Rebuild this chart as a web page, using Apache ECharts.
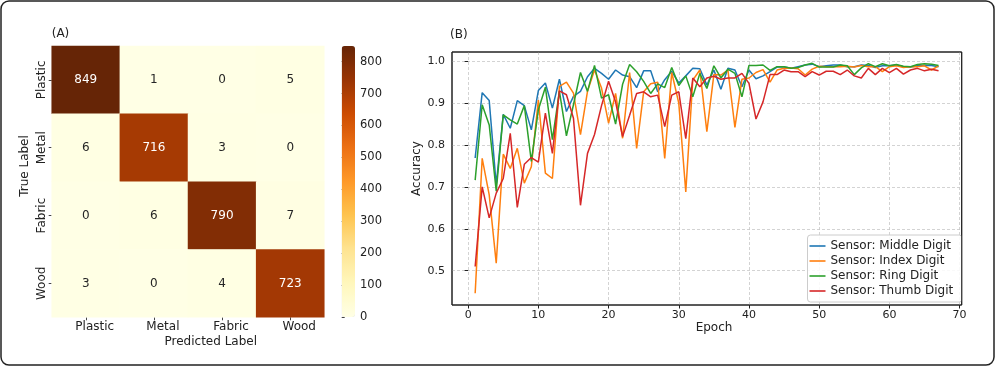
<!DOCTYPE html>
<html>
<head>
<meta charset="utf-8">
<script src="https://cdn.jsdelivr.net/npm/echarts@6/dist/echarts.min.js"></script>
<style>
html,body{margin:0;padding:0;background:#fff;}
#chart{width:996px;height:367px;}
</style>
</head>
<body>
<div id="chart"></div>
<script>
const categories = ['Plastic', 'Metal', 'Fabric', 'Wood'];
const confusion = [
  [849, 1, 0, 5],
  [6, 716, 3, 0],
  [0, 6, 790, 7],
  [3, 0, 4, 723]
];
const epochs = [1,2,3,4,5,6,7,8,9,10,11,12,13,14,15,16,17,18,19,20,21,22,23,24,25,26,27,28,29,30,31,32,33,34,35,36,37,38,39,40,41,42,43,44,45,46,47,48,49,50,51,52,53,54,55,56,57,58,59,60,61,62,63,64,65,66,67];
const middleDigit = [0.769,0.925,0.906,0.705,0.873,0.84,0.906,0.894,0.836,0.93,
 0.948,0.888,0.957,0.88,0.916,0.928,0.963,0.983,0.971,0.957,
 0.979,0.967,0.963,0.937,0.977,0.977,0.927,0.956,0.976,0.948,
 0.965,0.983,0.982,0.943,0.979,0.933,0.983,0.979,0.939,0.979,
 0.958,0.965,0.975,0.986,0.986,0.983,0.987,0.991,0.993,0.987,
 0.989,0.991,0.991,0.987,0.987,0.991,0.99,0.985,0.989,0.989,
 0.991,0.987,0.986,0.989,0.99,0.99,0.987];
const indexDigit = [0.446,0.768,0.681,0.518,0.778,0.744,0.792,0.709,0.748,0.907,
 0.733,0.72,0.94,0.95,0.924,0.825,0.928,0.979,0.936,0.852,
 0.923,0.816,0.973,0.792,0.927,0.946,0.95,0.768,0.973,0.9,
 0.688,0.955,0.979,0.832,0.968,0.967,0.979,0.842,0.957,0.96,
 0.973,0.98,0.95,0.979,0.983,0.984,0.982,0.967,0.981,0.988,
 0.987,0.987,0.987,0.988,0.986,0.99,0.987,0.987,0.975,0.987,
 0.989,0.985,0.987,0.987,0.989,0.979,0.989];
const ringDigit = [0.716,0.896,0.848,0.69,0.872,0.86,0.85,0.894,0.761,0.884,
 0.938,0.813,0.928,0.822,0.896,0.973,0.928,0.99,0.912,0.92,
 0.85,0.945,0.992,0.975,0.952,0.923,0.946,0.937,0.985,0.942,
 0.965,0.915,0.971,0.935,0.989,0.96,0.981,0.971,0.915,0.99,
 0.99,0.991,0.978,0.987,0.987,0.983,0.985,0.991,0.995,0.986,
 0.986,0.986,0.991,0.989,0.968,0.984,0.994,0.987,0.994,0.989,
 0.992,0.988,0.987,0.992,0.994,0.993,0.99];
const thumbDigit = [0.51,0.70,0.626,0.685,0.72,0.828,0.651,0.754,0.77,0.759,
 0.876,0.78,0.929,0.92,0.864,0.656,0.78,0.825,0.894,0.952,
 0.903,0.82,0.871,0.923,0.927,0.915,0.919,0.844,0.919,0.927,
 0.815,0.96,0.939,0.96,0.964,0.957,0.96,0.96,0.971,0.947,
 0.862,0.903,0.968,0.968,0.979,0.975,0.975,0.963,0.975,0.967,
 0.976,0.976,0.968,0.979,0.965,0.96,0.983,0.968,0.983,0.973,
 0.983,0.969,0.979,0.983,0.977,0.981,0.977];
const seriesNames = ['Sensor: Middle Digit', 'Sensor: Index Digit', 'Sensor: Ring Digit', 'Sensor: Thumb Digit'];
const seriesColors = ['#1f77b4', '#ff7f0e', '#2ca02c', '#d62728'];
const ylOrBr = ['#ffffe5','#fff7bc','#fee391','#fec44f','#fe9929','#ec7014','#cc4c02','#993404','#662506'];

const FONT = 'DejaVu Sans';
const TXT = '#222';

const heatData = [];
confusion.forEach((row, r) => row.forEach((v, c) => {
  heatData.push({ value: [c, r, v], label: { color: v > 400 ? '#ffffff' : '#262626' } });
}));

const seriesArrays = [middleDigit, indexDigit, ringDigit, thumbDigit];
const lineSeries = seriesArrays.map((arr, i) => ({
  type: 'line',
  name: seriesNames[i],
  xAxisIndex: 1, yAxisIndex: 1,
  data: epochs.map((e, j) => [e, arr[j]]),
  symbol: 'none', showSymbol: false,
  lineStyle: { width: 1.5, color: seriesColors[i] },
  itemStyle: { color: seriesColors[i] },
  z: 3 + i
}));

const chart = echarts.init(document.getElementById('chart'), null, { renderer: 'canvas' });
const option = {
  animation: false,
  textStyle: { fontFamily: FONT, color: TXT },
  grid: [
    { left: 51.7, top: 46, width: 272.6, height: 271.3 },
    { left: 452, top: 52, width: 509.7, height: 253, show: true, borderColor: '#222', borderWidth: 1, backgroundColor: '#fff' },
    { left: 341.7, top: 46, width: 13.3, height: 271 }
  ],
  xAxis: [
    { type: 'category', gridIndex: 0, data: categories, position: 'bottom',
      axisLine: { show: false }, splitLine: { show: false }, splitArea: { show: false },
      axisTick: { show: true, alignWithLabel: true, length: 3, lineStyle: { color: '#444' } },
      axisLabel: { fontSize: 12, color: TXT, margin: 4, padding: [0, 0, 0, 18] } },
    { type: 'value', gridIndex: 1, min: -2.3, max: 70.3, minInterval: 10, maxInterval: 10,
      axisLine: { show: false },
      axisTick: { show: true, length: 3.5, lineStyle: { color: '#222' } },
      axisLabel: { fontSize: 11, color: TXT, margin: 5, showMinLabel: false, showMaxLabel: false },
      splitLine: { show: true, showMinLine: false, showMaxLine: false, lineStyle: { color: '#c8c8c8', type: [3, 2], width: 0.8 } } },
    { type: 'value', gridIndex: 2, show: false, min: 0, max: 1 }
  ],
  yAxis: [
    { type: 'category', gridIndex: 0, data: categories, inverse: true,
      axisLine: { show: false }, splitLine: { show: false }, splitArea: { show: false },
      axisTick: { show: true, alignWithLabel: true, length: 3, lineStyle: { color: '#444' } },
      axisLabel: { fontSize: 12, color: TXT, rotate: 90, margin: 4 } },
    { type: 'value', gridIndex: 1, min: 0.418, max: 1.022, minInterval: 0.1, maxInterval: 0.1,
      axisLine: { show: false },
      axisTick: { show: true, length: 3.5, lineStyle: { color: '#222' } },
      axisLabel: { fontSize: 11, color: TXT, margin: 7, showMinLabel: false, showMaxLabel: false,
        formatter: v => v.toFixed(1) },
      splitLine: { show: true, showMinLine: false, showMaxLine: false, lineStyle: { color: '#c8c8c8', type: [3, 2], width: 0.8 } } },
    { type: 'value', gridIndex: 2, position: 'right', min: 0, max: 849, interval: 100,
      axisLine: { show: false }, splitLine: { show: false },
      axisTick: { show: true, length: 3, lineStyle: { color: '#444' } },
      axisLabel: { fontSize: 11.5, color: TXT, margin: 5, showMaxLabel: false } }
  ],
  visualMap: {
    type: 'continuous', min: 0, max: 849, seriesIndex: 0,
    left: 341.7, top: 46, itemWidth: 13.3, itemHeight: 271, padding: 0,
    calculable: false, hoverLink: false, orient: 'vertical',
    inRange: { color: ylOrBr }
  },
  legend: {
    data: seriesNames, orient: 'vertical', left: 807.5, top: 235,
    padding: [5, 9, 5, 2], itemGap: 3, itemWidth: 16, itemHeight: 1.6, icon: 'rect',
    backgroundColor: 'rgba(255,255,255,0.85)', borderColor: '#cccccc', borderWidth: 1, borderRadius: 3,
    textStyle: { fontSize: 12, color: TXT, fontFamily: FONT }
  },
  series: [
    { type: 'heatmap', xAxisIndex: 0, yAxisIndex: 0, data: heatData,
      label: { show: true, fontSize: 12, fontFamily: FONT, formatter: p => String(p.value[2]) },
      emphasis: { disabled: true } },
    ...lineSeries,
    { type: 'line', xAxisIndex: 2, yAxisIndex: 2, data: [], silent: true }
  ],
  graphic: [
    { type: 'rect', silent: true, shape: { x: 1, y: 1, width: 993, height: 364, r: 8 },
      style: { fill: 'none', stroke: '#222', lineWidth: 1.5 } },
    { type: 'rect', silent: true, z: 100, shape: { x: 452, y: 52, width: 509.7, height: 253 },
      style: { fill: 'none', stroke: '#222', lineWidth: 1 } },
    { type: 'text', silent: true, style: { text: '(A)', x: 51.7, y: 34.3, verticalAlign: 'middle', font: '12px "DejaVu Sans"', fill: TXT } },
    { type: 'text', silent: true, style: { text: '(B)', x: 450, y: 35, verticalAlign: 'middle', font: '12px "DejaVu Sans"', fill: TXT } },
    { type: 'text', silent: true, x: 25, y: 166, rotation: Math.PI / 2,
      style: { text: 'True Label', x: 0, y: 0, align: 'center', verticalAlign: 'middle', font: '12px "DejaVu Sans"', fill: TXT } },
    { type: 'text', silent: true, style: { text: 'Predicted Label', x: 210.8, y: 341.7, align: 'center', verticalAlign: 'middle', font: '12px "DejaVu Sans"', fill: TXT } },
    { type: 'text', silent: true, x: 416.7, y: 168.5, rotation: Math.PI / 2,
      style: { text: 'Accuracy', x: 0, y: 0, align: 'center', verticalAlign: 'middle', font: '12px "DejaVu Sans"', fill: TXT } },
    { type: 'text', silent: true, style: { text: 'Epoch', x: 714, y: 328.3, align: 'center', verticalAlign: 'middle', font: '12px "DejaVu Sans"', fill: TXT } }
  ]
};
chart.setOption(option);
</script>
</body>
</html>
